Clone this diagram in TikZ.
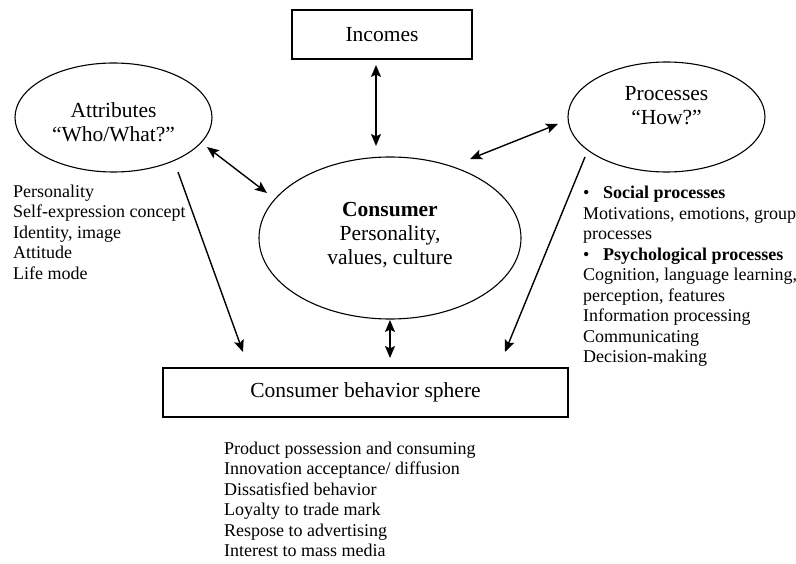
\documentclass[tikz,border=0pt]{standalone}
\usepackage{fontspec}
\setmainfont{Liberation Serif}
\usetikzlibrary{arrows.meta,calc,shapes.geometric}
\tikzset{
  big/.style={font=\fontsize{21.5}{24}\selectfont},
  small/.style={font=\fontsize{18}{20.5}\selectfont},
  boxnode/.style={draw, line width=1.3pt, minimum width=#1, inner sep=0pt},
  ell/.style={draw, ellipse, line width=1.1pt, inner sep=0pt},
  txt/.style={inner sep=0pt, align=center, big},
  listtxt/.style={inner sep=0pt, align=left, anchor=north west, small},
  tip/.style={},
  conn/.style={line width=1.4pt, -{Stealth[length=12pt,width=10pt,inset=2.5pt]}},
  dconn/.style={line width=1.4pt, {Stealth[length=12pt,width=10pt,inset=2.5pt]}-{Stealth[length=12pt,width=10pt,inset=2.5pt]}}
}
\begin{document}
\begin{tikzpicture}[x=1pt,y=-1pt]
\useasboundingbox (0,0) rectangle (796,564);
% nodes
\node[boxnode=180pt, minimum height=49pt, big] (inc) at (382,34.5) {Incomes};
\node[ell, minimum width=262pt, minimum height=162pt] (cons) at (390,238) {};
\node[txt] (constxt) at (390,235) {\textbf{Consumer}\\Personality,\\values, culture};
\node[ell, minimum width=197pt, minimum height=109pt] (attr) at (113.5,117.5) {};
\node[txt] (attrtxt) at (113.5,122) {Attributes\\“Who/What?”};
\node[ell, minimum width=197pt, minimum height=110pt] (proc) at (666.5,117) {};
\node[txt] (proctxt) at (666.5,106) {Processes\\“How?”};
\node[boxnode=405pt, minimum height=49pt, big] (beh) at (365.5,392.5) {Consumer behavior sphere};
% lists
\node[listtxt] (attrlist) at (13,184.7) {Personality\\Self-expression concept\\Identity, image\\Attitude\\Life mode};
\node[listtxt] (proclist) at (583,186) {\makebox[20pt][l]{\textbullet}\textbf{Social processes}\\Motivations, emotions, group\\processes\\\makebox[20pt][l]{\textbullet}\textbf{Psychological processes}\\Cognition, language learning,\\perception, features\\Information processing\\Communicating\\Decision-making};
\node[listtxt] (behlist) at (224,441.5) {Product possession and consuming\\Innovation acceptance/ diffusion\\Dissatisfied behavior\\Loyalty to trade mark\\Respose to advertising\\Interest to mass media};
% connectors
\draw[dconn] ($(inc.center)+(-6,30.5)$) -- ($(cons.center)+(-14,-92)$);
\draw[dconn] ($(attr.center)+(93.5,29.5)$) -- ($(cons.center)+(-123,-45)$);
\draw[dconn] ($(cons.center)+(80,-79)$) -- ($(proc.center)+(-108.5,7)$);
\draw[dconn] ($(cons.center)+(0,82)$) -- ($(beh.center)+(24.5,-34.5)$);
\draw[conn] ($(attr.center)+(64.5,54.5)$) -- ($(beh.center)+(-122.5,-40.5)$);
\draw[conn] ($(proc.center)+(-81.5,40)$) -- ($(beh.center)+(139.5,-40.5)$);
\end{tikzpicture}
\end{document}
